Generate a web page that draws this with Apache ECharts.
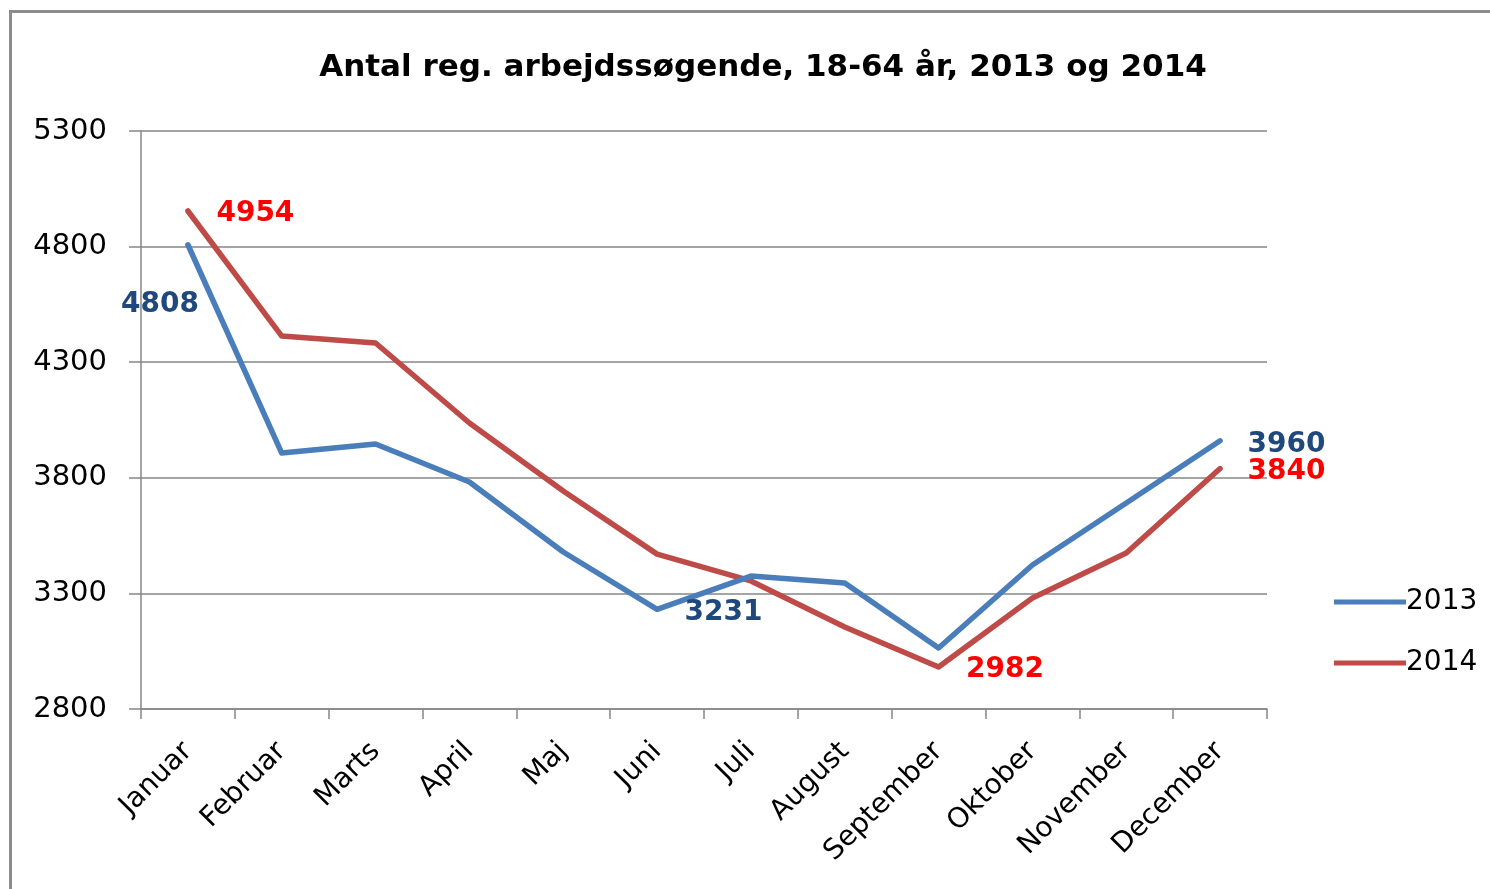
<!DOCTYPE html>
<html>
<head>
<meta charset="utf-8">
<script src="https://cdn.jsdelivr.net/npm/echarts@6/dist/echarts.min.js"></script>
<style>html,body{margin:0;padding:0;background:#fff}#c{width:1490px;height:889px}</style>
</head>
<body>
<div id="c"></div>
<script>
var titleText = 'Antal reg. arbejdssøgende, 18-64 år, 2013 og 2014';
var months = ['Januar','Februar','Marts','April','Maj','Juni','Juli','August','September','Oktober','November','December'];
var series2013 = [4808, 3907, 3946, 3782, 3479, 3231, 3375, 3345, 3064, 3423, 3691, 3960];
var series2014 = [4954, 4413, 4383, 4037, 3743, 3470, 3354, 3155, 2982, 3280, 3475, 3840];
var yMin = 2800, yMax = 5300, yStep = 500;

var FONT = 'DejaVu Sans';
var blue = '#4A7EBB', red = '#BE4B48';
var blueLbl = '#1F497D', redLbl = '#FF0000';

function labelled(values, cfg) {
  return values.map(function (v, i) {
    if (cfg[i]) return { value: v, label: Object.assign({ show: true }, cfg[i]) };
    return { value: v, label: { show: false } };
  });
}
var lblBase = { fontFamily: FONT, fontWeight: 'bold', fontSize: 28 };
var d2013 = labelled(series2013, {
  0: Object.assign({ color: blueLbl, position: 'bottom', offset: [-28, 40] }, lblBase),
  5: Object.assign({ color: blueLbl, position: 'right', distance: 27, offset: [0, 3] }, lblBase),
  11: Object.assign({ color: blueLbl, position: 'right', distance: 27, offset: [0, 4] }, lblBase)
});
var d2014 = labelled(series2014, {
  0: Object.assign({ color: redLbl, position: 'right', distance: 28, offset: [0, 3] }, lblBase),
  8: Object.assign({ color: redLbl, position: 'right', distance: 27, offset: [0, 3] }, lblBase),
  11: Object.assign({ color: redLbl, position: 'right', distance: 27, offset: [0, 3] }, lblBase)
});

var chart = echarts.init(document.getElementById('c'), null, { renderer: 'canvas' });
chart.setOption({
  animation: false,
  backgroundColor: '#fff',
  graphic: [{
    type: 'rect', shape: { x: 10.5, y: 11.5, width: 2000, height: 2000 },
    style: { fill: 'none', stroke: '#8C8C8C', lineWidth: 3 }, silent: true, z: 100
  }],
  title: {
    text: titleText, left: 758, top: 47, textAlign: 'center',
    textStyle: { fontFamily: FONT, fontWeight: 'bold', fontSize: 31, color: '#000' }
  },
  legend: {
    orient: 'vertical', left: 1329, top: 583, itemWidth: 72, itemHeight: 5, itemGap: 33,
    icon: 'rect',
    textStyle: { fontFamily: FONT, fontSize: 28, color: '#000', padding: [0, 0, 0, -5] },
    data: [
      { name: '2013', itemStyle: { color: blue, opacity: 1 } },
      { name: '2014', itemStyle: { color: red, opacity: 1 } }
    ]
  },
  grid: { left: 141, right: 1490 - 1267, top: 131, bottom: 889 - 709, containLabel: false },
  xAxis: {
    type: 'category', data: months, boundaryGap: true,
    axisLine: { lineStyle: { color: '#868686', width: 1.5 } },
    axisTick: { show: true, length: 10, lineStyle: { color: '#868686', width: 1.5 } },
    axisLabel: { rotate: 45, fontFamily: FONT, fontSize: 28, color: '#000', margin: 38, interval: 0 }
  },
  yAxis: {
    type: 'value', min: yMin, max: yMax, interval: yStep,
    axisLine: { show: true, lineStyle: { color: '#868686', width: 1.5 } },
    axisTick: { show: true, length: 12, lineStyle: { color: '#868686', width: 1.5 } },
    splitLine: { show: true, lineStyle: { color: '#868686', width: 1.5 } },
    axisLabel: { fontFamily: FONT, fontSize: 29, color: '#000', margin: 34, formatter: function (v) { return String(v); } }
  },
  series: [
    { name: '2013', type: 'line', data: d2013, symbol: 'circle', symbolSize: 1, showSymbol: true,
      itemStyle: { color: 'rgba(0,0,0,0)', borderWidth: 0 },
      lineStyle: { color: blue, width: 5.5, cap: 'round', join: 'round' }, z: 3 },
    { name: '2014', type: 'line', data: d2014, symbol: 'circle', symbolSize: 1, showSymbol: true,
      itemStyle: { color: 'rgba(0,0,0,0)', borderWidth: 0 },
      lineStyle: { color: red, width: 5.5, cap: 'round', join: 'round' }, z: 2 }
  ]
});
</script>
</body>
</html>
